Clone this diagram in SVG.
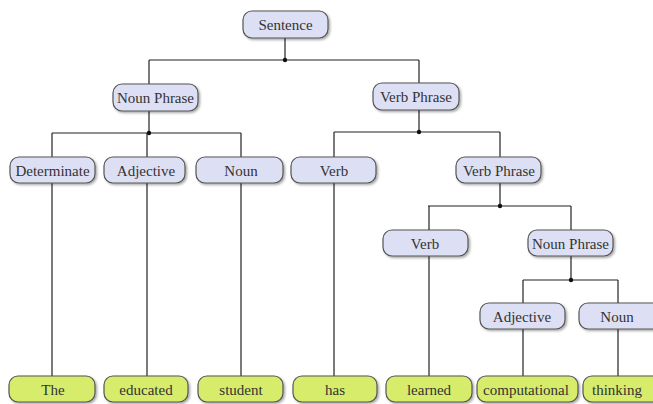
<svg xmlns="http://www.w3.org/2000/svg" width="653" height="404" viewBox="0 0 653 404">
<defs>
<filter id="sh" x="-10%" y="-20%" width="130%" height="160%">
<feDropShadow dx="1.5" dy="1.5" stdDeviation="1.2" flood-color="#000" flood-opacity="0.35"/>
</filter>
<style>
.n rect{fill:#dde0f4;stroke:#555;stroke-width:1.2;filter:url(#sh)}
.l rect{fill:#d7ec6b;stroke:#555;stroke-width:1.2;filter:url(#sh)}
text{font-family:"Liberation Serif","DejaVu Serif",serif;font-size:15px;fill:#333;text-anchor:middle}
.c line{stroke:#222;stroke-width:1.2}
.c circle{fill:#111}
</style>
</defs>
<rect width="653" height="404" fill="#fff"/>
<g class="c">
<line x1="285" y1="38" x2="285" y2="60"/>
<line x1="149" y1="60" x2="419" y2="60"/>
<line x1="149" y1="60" x2="149" y2="85"/>
<line x1="419" y1="60" x2="419" y2="84"/>
<circle cx="285" cy="60" r="2.2"/>
<line x1="149" y1="111" x2="149" y2="133"/>
<line x1="52" y1="133" x2="241" y2="133"/>
<line x1="52" y1="133" x2="52" y2="376"/>
<line x1="147" y1="133" x2="147" y2="376"/>
<line x1="241" y1="133" x2="241" y2="376"/>
<circle cx="149" cy="133" r="2.2"/>
<line x1="419" y1="110" x2="419" y2="132"/>
<line x1="334" y1="132" x2="500" y2="132"/>
<line x1="334" y1="132" x2="334" y2="376"/>
<line x1="500" y1="132" x2="500" y2="206"/>
<circle cx="419" cy="132" r="2.2"/>
<line x1="428" y1="206" x2="571" y2="206"/>
<line x1="429" y1="206" x2="429" y2="376"/>
<line x1="571" y1="206" x2="571" y2="280"/>
<circle cx="500" cy="206" r="2.2"/>
<line x1="523" y1="280" x2="618" y2="280"/>
<line x1="523" y1="280" x2="523" y2="376"/>
<line x1="618" y1="280" x2="618" y2="376"/>
<circle cx="571" cy="280" r="2.2"/>
</g>
<g id="sentence" class="n"><rect x="243" y="11" width="85" height="27" rx="9"/><text x="285.5" y="29.5">Sentence</text></g>
<g id="np1" class="n"><rect x="113" y="84" width="85" height="27" rx="9"/><text x="155.5" y="102.5">Noun Phrase</text></g>
<g id="vp1" class="n"><rect x="373" y="83" width="86" height="27" rx="9"/><text x="416" y="101.5">Verb Phrase</text></g>
<g id="det" class="n"><rect x="10" y="157" width="85" height="26" rx="9"/><text x="52.5" y="175.5">Determinate</text></g>
<g id="adj1" class="n"><rect x="104" y="157" width="81" height="26" rx="9"/><text x="146" y="175.5">Adjective</text></g>
<g id="noun1" class="n"><rect x="196" y="157" width="87" height="26" rx="9"/><text x="241" y="175.5">Noun</text></g>
<g id="verb1" class="n"><rect x="291" y="157" width="85" height="26" rx="9"/><text x="334" y="175.5">Verb</text></g>
<g id="vp2" class="n"><rect x="456" y="157" width="85" height="26" rx="9"/><text x="499" y="175.5">Verb Phrase</text></g>
<g id="verb2" class="n"><rect x="383" y="230" width="85" height="26" rx="9"/><text x="425" y="248.5">Verb</text></g>
<g id="np2" class="n"><rect x="528" y="230" width="85" height="26" rx="9"/><text x="570.5" y="248.5">Noun Phrase</text></g>
<g id="adj2" class="n"><rect x="480" y="303" width="85" height="26" rx="9"/><text x="522" y="321.5">Adjective</text></g>
<g id="noun2" class="n"><rect x="579" y="303" width="85" height="26" rx="9"/><text x="617" y="321.5">Noun</text></g>
<g id="w-the" class="l"><rect x="9" y="376" width="86" height="26" rx="9"/><text x="53" y="394.5">The</text></g>
<g id="w-educated" class="l"><rect x="104" y="376" width="84" height="26" rx="9"/><text x="146" y="394.5">educated</text></g>
<g id="w-student" class="l"><rect x="198" y="376" width="85" height="26" rx="9"/><text x="241" y="394.5">student</text></g>
<g id="w-has" class="l"><rect x="293" y="376" width="84" height="26" rx="9"/><text x="335" y="394.5">has</text></g>
<g id="w-learned" class="l"><rect x="386" y="376" width="86" height="26" rx="9"/><text x="429" y="394.5">learned</text></g>
<g id="w-computational" class="l"><rect x="477" y="376" width="101" height="26" rx="9"/><text x="526" y="394.5">computational</text></g>
<g id="w-thinking" class="l"><rect x="583" y="376" width="85" height="26" rx="9"/><text x="617" y="394.5">thinking</text></g>
</svg>
